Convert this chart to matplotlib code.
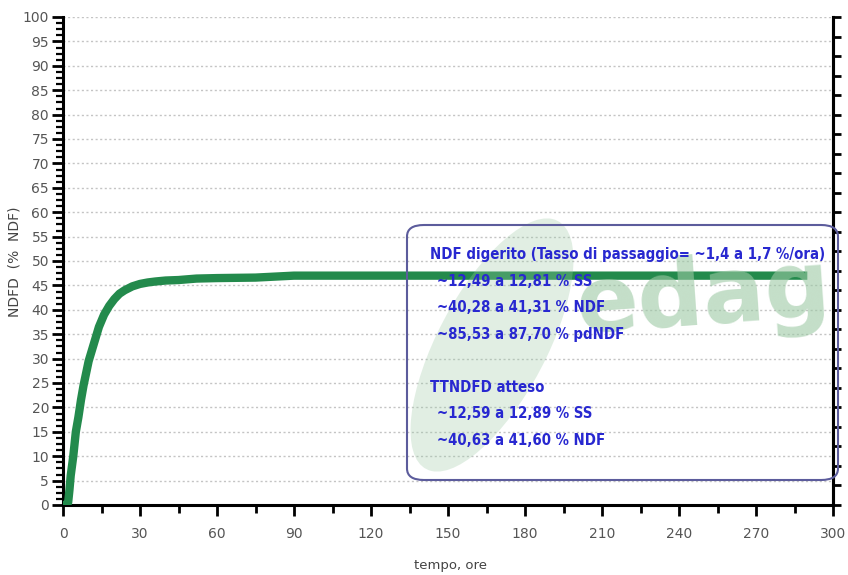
import matplotlib
matplotlib.use("Agg")
import matplotlib.pyplot as plt
from matplotlib.ticker import MultipleLocator
from matplotlib.patches import FancyBboxPatch, Ellipse

# Data
tempo = [0, 1, 2, 2.5, 3, 4, 5, 6, 7, 8, 9, 10, 12, 14, 16, 18, 20, 22, 24, 27,
         30, 33, 36, 40, 45, 52, 60, 75, 90, 120, 150, 200, 250, 290]
ndfd = [0, 0, 0.5, 3, 6, 10, 15, 18, 21.5, 24.5, 27, 29.5, 33, 36.5, 39, 40.8, 42.2,
        43.3, 44, 44.8, 45.3, 45.6, 45.8, 46, 46.1, 46.4, 46.5, 46.6, 47, 47, 47, 47, 47, 47]

x_ticks = list(range(0, 301, 30))
y_ticks = list(range(0, 101, 5))

box_lines = [
    ("NDF digerito (Tasso di passaggio= ~1,4 a 1,7 %/ora)", 0),
    ("~12,49 a 12,81 % SS", 1),
    ("~40,28 a 41,31 % NDF", 1),
    ("~85,53 a 87,70 % pdNDF", 1),
    ("", 0),
    ("TTNDFD atteso", 0),
    ("~12,59 a 12,89 % SS", 1),
    ("~40,63 a 41,60 % NDF", 1),
]

W, H = 848, 575
fig = plt.figure(figsize=(W / 100, H / 100), dpi=100)
ax = fig.add_axes([63 / W, 1 - 505 / H, (833 - 63) / W, (505 - 17) / H])

ax.set_xlim(0, 300)
ax.set_ylim(0, 100)

for y in y_ticks[1:]:
    ax.axhline(y, color="#c4c4c4", lw=1.0, ls=(0, (1.5, 1.8)), zorder=1)

ax.plot(tempo, ndfd, color="#238a4c", lw=6, solid_capstyle="butt", zorder=3)

ax.spines["top"].set_visible(False)
for s in ["left", "bottom", "right"]:
    ax.spines[s].set_linewidth(2.2)
    ax.spines[s].set_color("black")

ax.set_xticks(x_ticks)
ax.set_yticks(y_ticks)
ax.xaxis.set_minor_locator(MultipleLocator(15))
ax.yaxis.set_minor_locator(MultipleLocator(1.25))
ax.tick_params(axis="x", which="major", direction="out", length=8, width=2, labelsize=10,
               labelcolor="#555555", pad=8)
ax.tick_params(axis="x", which="minor", direction="out", length=6, width=2)
ax.tick_params(axis="y", which="major", direction="out", length=8, width=2, labelsize=10,
               labelcolor="#555555", pad=2)
ax.tick_params(axis="y", which="minor", direction="out", length=5, width=1.6)

ax2 = ax.twinx()
ax2.set_ylim(0, 100)
ax2.set_yticks(list(range(0, 101, 4)))
ax2.tick_params(axis="y", direction="out", length=6, width=2, labelright=False)
for s in ["top", "left", "bottom"]:
    ax2.spines[s].set_visible(False)
ax2.spines["right"].set_linewidth(2.2)

fig.text(15 / W, 1 - 262 / H, "NDFD  (%  NDF)", rotation=90, ha="center", va="center",
         fontsize=10, color="#444444")
fig.text(450 / W, 1 - 565 / H, "tempo, ore", ha="center", va="center",
         fontsize=9.5, color="#444444")

# watermark (leaf + "edag")
leaf = Ellipse((492 / W, 1 - 345 / H), 115 / W, 265 / H, angle=-18,
               transform=fig.transFigure, facecolor="#9cc9a4", edgecolor="none",
               alpha=0.3, zorder=4)
fig.patches.append(leaf)
fig.text(703 / W, 1 - 298 / H, "edag", ha="center", va="center", fontsize=66,
         fontweight="bold", color="#9cc9a4", alpha=0.6, zorder=5, rotation=4)

box = FancyBboxPatch((407 / W, 1 - 480 / H), (838 - 407) / W, (480 - 225) / H,
                     boxstyle="round,pad=0,rounding_size=0.02", transform=fig.transFigure,
                     facecolor="none", edgecolor="#5c5c9c", lw=1.5, zorder=6)
fig.patches.append(box)

y0 = 255
step = 26.5
for i, (txt, indent) in enumerate(box_lines):
    if not txt:
        continue
    fig.text((430 + 7 * indent) / W, 1 - (y0 + i * step) / H, txt, ha="left", va="center",
             fontsize=10.7, color="#2828d0", fontweight="bold", zorder=7,
             fontstretch="condensed")

fig.savefig("out.png", dpi=100)
